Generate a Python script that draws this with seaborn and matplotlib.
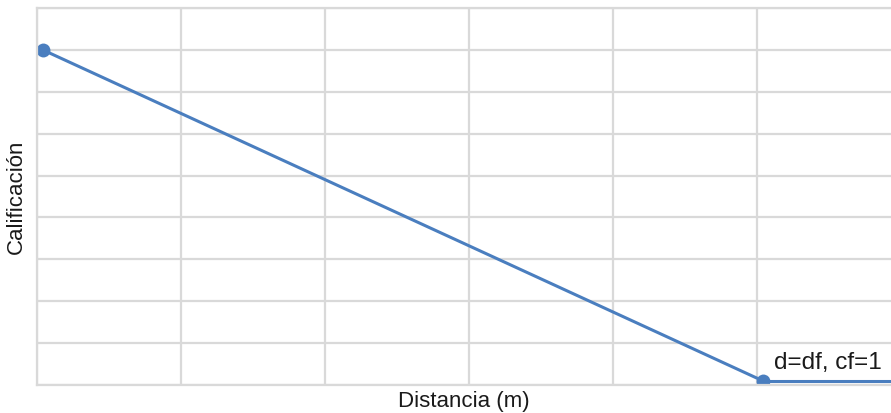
import matplotlib
matplotlib.use('Agg')
import matplotlib.pyplot as plt
import seaborn as sns
import pandas as pd

# datos
distancia = [0.04, 5.04]
calificacion = [8.0, 0.1]
tramo_x = [5.04, 6.2]
tramo_y = [0.1, 0.1]
etiqueta = 'd=df, cf=1'

sns.set_style('whitegrid', {'grid.color': '#d9d9d9', 'axes.edgecolor': '#d9d9d9'})
plt.rcParams['font.family'] = ['Liberation Sans', 'DejaVu Sans']

color = '#4a7ebf'

fig = plt.figure(figsize=(8.91, 4.13), dpi=100)
ax = fig.add_axes([37/891, 28/413, 1 - 37/891, 377/413])

# recta con marcadores y tramo horizontal final
df = pd.DataFrame({'d': distancia, 'c': calificacion})
sns.lineplot(data=df, x='d', y='c', ax=ax, color=color, linewidth=2.2,
             marker='o', markersize=10, markeredgewidth=0)
sns.lineplot(x=tramo_x, y=tramo_y, ax=ax, color=color, linewidth=2.2)

ax.set_xlim(0, 854/144)
ax.set_ylim(0, 9)
ax.set_xticks(range(0, 6))
ax.set_yticks(range(0, 10))
ax.set_xticklabels([])
ax.set_yticklabels([])
ax.tick_params(length=0)
ax.grid(True, linewidth=1.6, color='#d9d9d9')
for s in ['left', 'bottom', 'top']:
    ax.spines[s].set_linewidth(1.6)
    ax.spines[s].set_color('#d9d9d9')
ax.spines['right'].set_visible(False)

ax.text(5.12, 0.38, etiqueta, fontsize=17.5, color='#1a1a1a', ha='left', va='baseline')
ax.set_xlabel('Distancia (m)', fontsize=16, color='#1a1a1a', labelpad=1)
ax.set_ylabel('Calificación', fontsize=16, color='#1a1a1a', labelpad=4)

plt.savefig('out.png', dpi=100)
